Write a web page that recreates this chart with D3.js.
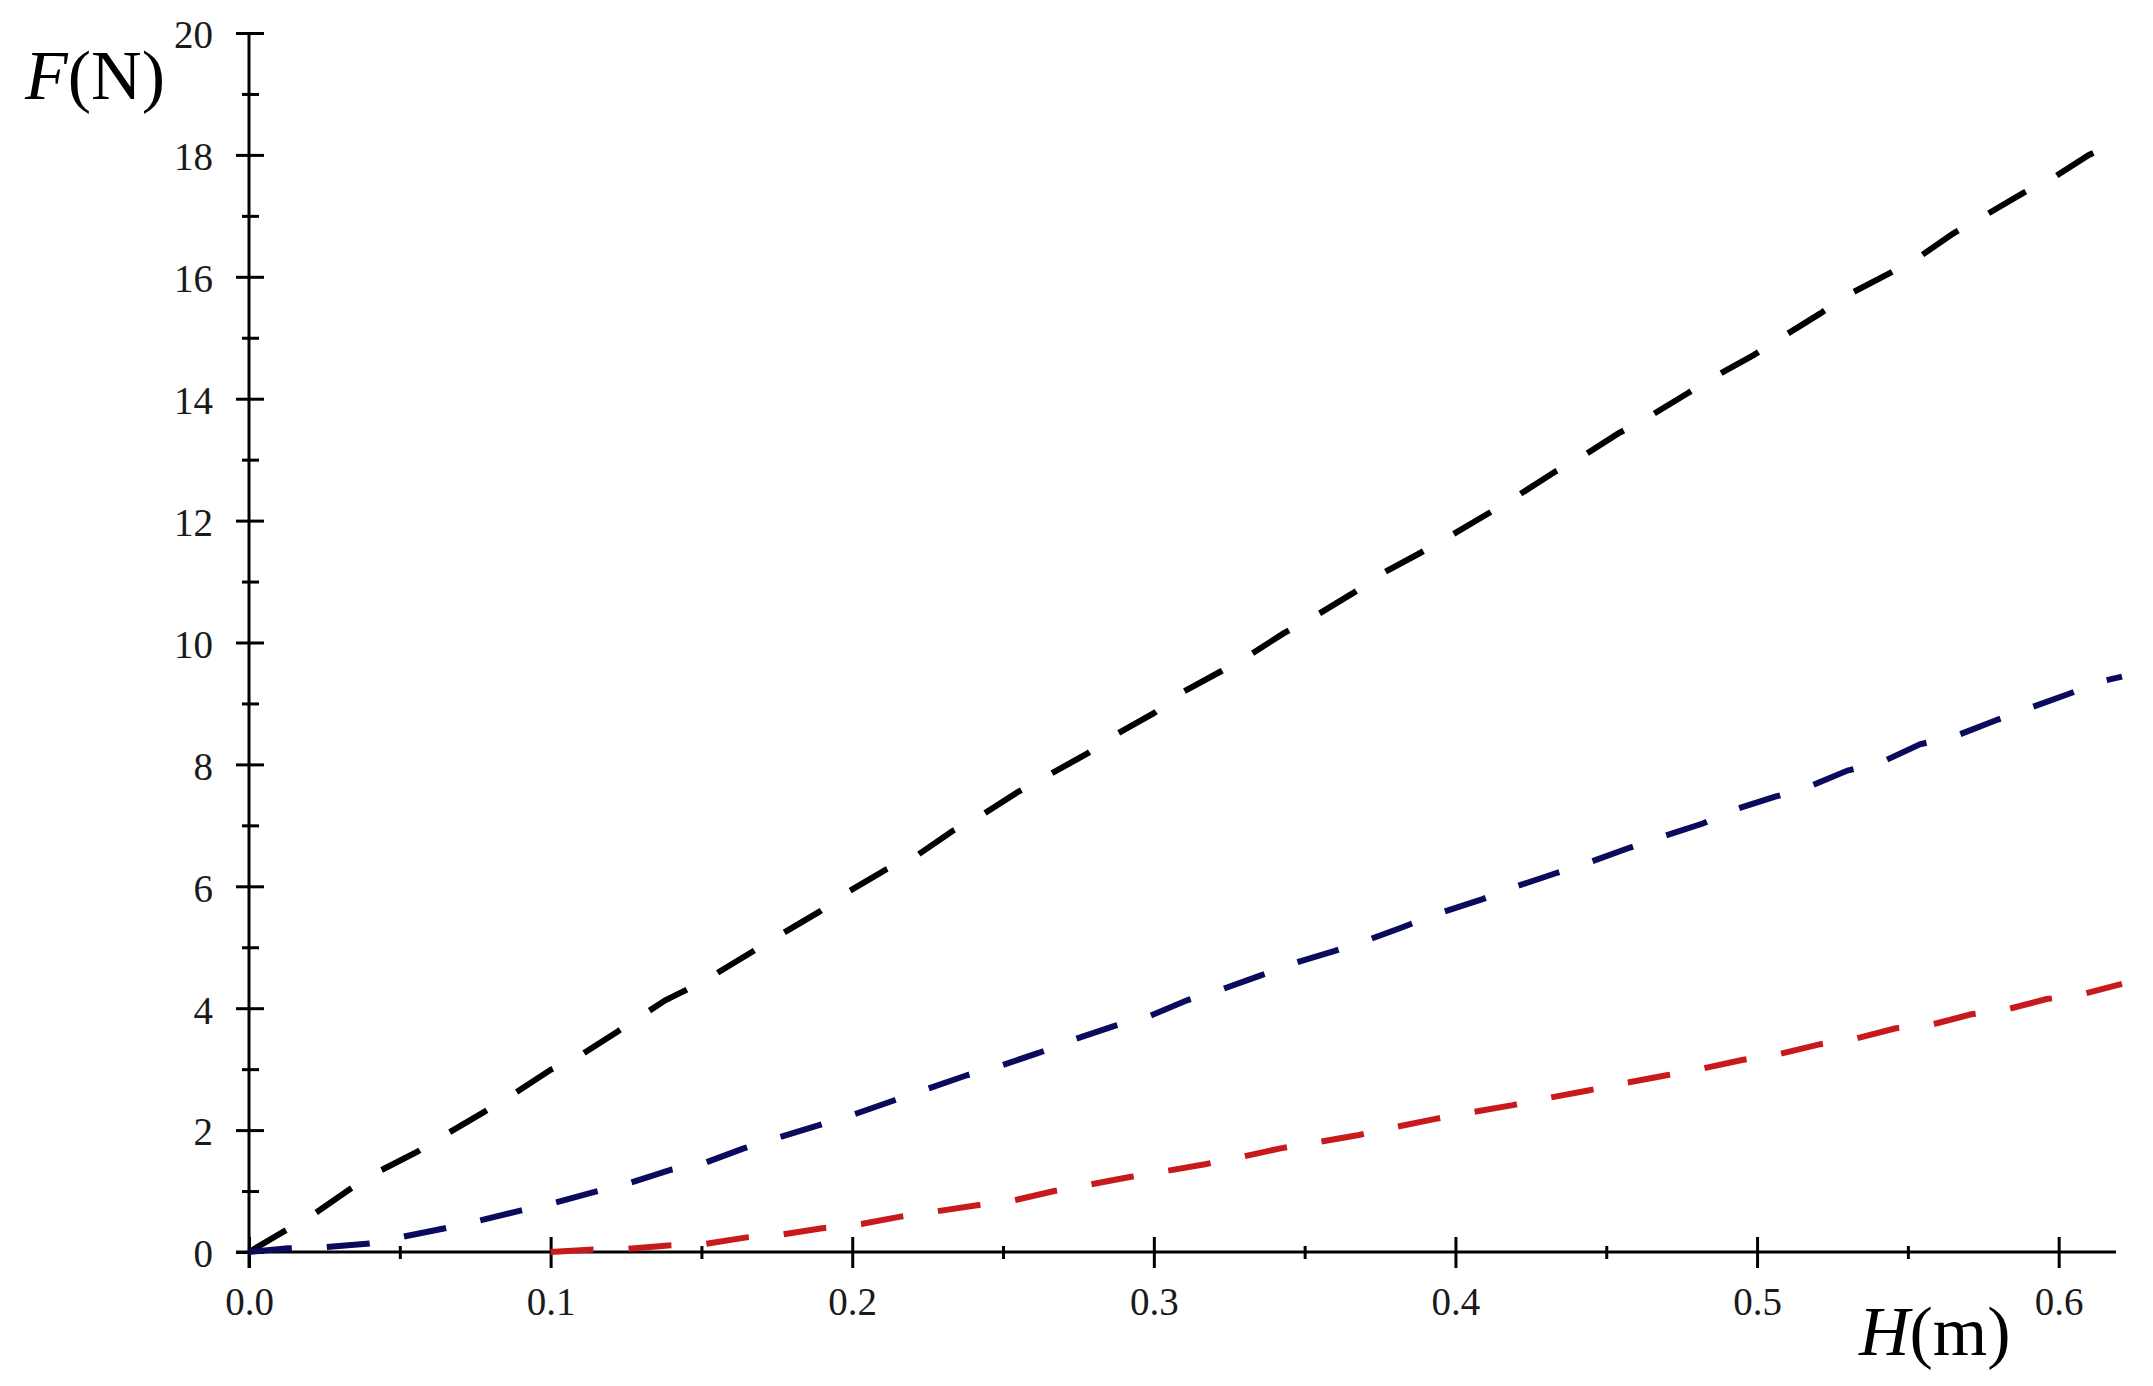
<!DOCTYPE html>
<html>
<head>
<meta charset="utf-8">
<script src="https://cdn.jsdelivr.net/npm/d3@7"></script>
<style>
    body { margin: 0; background: #fff; }
    svg { display: block; }
    .tick text { font-family: "Liberation Serif", "Times New Roman", serif; fill: #1a1a1a; }
    .axis-label { font-family: "Liberation Serif", "Times New Roman", serif; fill: #000; }
</style>
</head>
<body>
<svg id="chart" width="2153" height="1386"></svg>
<script>
// Values, H in m and F in N
const blackH = [0, 0.022, 0.034, 0.043, 0.056, 0.066, 0.078, 0.088, 0.100, 0.110,
    0.122, 0.138, 0.145, 0.155, 0.167, 0.176, 0.189, 0.198, 0.211, 0.221,
    0.233, 0.243, 0.255, 0.266, 0.278, 0.287, 0.300, 0.309, 0.322, 0.331,
    0.343, 0.354, 0.366, 0.376, 0.388, 0.398, 0.411, 0.420, 0.433, 0.442,
    0.454, 0.464, 0.477, 0.487, 0.499, 0.508, 0.521, 0.530, 0.544, 0.553,
    0.565, 0.575, 0.588, 0.598, 0.610, 0.617];
const blackF = [0, 0.64, 1.05, 1.32, 1.65, 1.95, 2.30, 2.60, 2.99, 3.23,
    3.61, 4.13, 4.30, 4.57, 4.93, 5.20, 5.58, 5.89, 6.27, 6.49,
    6.90, 7.17, 7.55, 7.85, 8.18, 8.48, 8.84, 9.17, 9.52, 9.77,
    10.15, 10.45, 10.81, 11.14, 11.46, 11.74, 12.12, 12.39, 12.80, 13.05,
    13.43, 13.70, 14.09, 14.39, 14.72, 15.00, 15.40, 15.70, 16.06, 16.30,
    16.71, 16.99, 17.37, 17.62, 18.00, 18.15];

const blueH = [0, 0.013, 0.025, 0.040, 0.051, 0.065, 0.076, 0.090, 0.100, 0.114,
    0.126, 0.140, 0.151, 0.164, 0.175, 0.189, 0.199, 0.214, 0.224, 0.238,
    0.250, 0.262, 0.273, 0.287, 0.298, 0.311, 0.322, 0.335, 0.346, 0.360,
    0.371, 0.382, 0.394, 0.409, 0.419, 0.433, 0.443, 0.457, 0.467, 0.482,
    0.492, 0.506, 0.516, 0.530, 0.541, 0.554, 0.566, 0.579, 0.590, 0.603,
    0.614, 0.621];
const blueF = [0, 0.06, 0.08, 0.14, 0.25, 0.39, 0.51, 0.68, 0.79, 0.98,
    1.13, 1.35, 1.46, 1.70, 1.87, 2.08, 2.23, 2.49, 2.66, 2.90,
    3.07, 3.27, 3.48, 3.71, 3.86, 4.13, 4.30, 4.53, 4.73, 4.94,
    5.12, 5.32, 5.55, 5.79, 5.98, 6.21, 6.37, 6.62, 6.79, 7.03,
    7.25, 7.47, 7.61, 7.90, 8.03, 8.33, 8.47, 8.72, 8.92, 9.15,
    9.36, 9.44];

const redH = [0.100, 0.114, 0.125, 0.140, 0.151, 0.165, 0.176, 0.190, 0.203, 0.216,
    0.227, 0.242, 0.253, 0.267, 0.278, 0.292, 0.303, 0.317, 0.329, 0.342,
    0.354, 0.368, 0.379, 0.393, 0.404, 0.419, 0.430, 0.444, 0.456, 0.470,
    0.481, 0.495, 0.506, 0.521, 0.531, 0.546, 0.557, 0.571, 0.582, 0.596,
    0.607, 0.621];
const redF = [0, 0.04, 0.05, 0.11, 0.13, 0.24, 0.28, 0.39, 0.46, 0.58,
    0.66, 0.77, 0.84, 1.00, 1.10, 1.23, 1.32, 1.44, 1.56, 1.70,
    1.80, 1.92, 2.04, 2.18, 2.28, 2.41, 2.52, 2.65, 2.77, 2.90,
    3.00, 3.15, 3.23, 3.41, 3.48, 3.67, 3.72, 3.90, 3.97, 4.15,
    4.22, 4.40];

const xMajor = [0, 0.1, 0.2, 0.3, 0.4, 0.5, 0.6];
const xMinor = [0.05, 0.15, 0.25, 0.35, 0.45, 0.55];
const yMajor = [0, 2, 4, 6, 8, 10, 12, 14, 16, 18, 20];
const yMinor = [1, 3, 5, 7, 9, 11, 13, 15, 17, 19];

const series = [
    { h: blackH, f: blackF, color: '#000000' },
    { h: blueH, f: blueF, color: '#0b0b5e' },
    { h: redH, f: redF, color: '#c81a1c' }
];

const svg = d3.select('#chart');

const x = d3.scaleLinear().domain([0, 0.62]).range([249, 2119]);
const y = d3.scaleLinear().domain([0, 20]).range([1252, 33]);

// x axis: major ticks cross the line, minor ticks are short
const xAxisG = svg.append('g')
    .attr('transform', `translate(0,${y(0)})`)
    .call(d3.axisBottom(x).tickValues(xMajor).tickSizeOuter(0).tickSize(15)
        .tickFormat(d3.format('.1f')));
xAxisG.selectAll('.tick line').attr('y1', -15).attr('y2', 16);
xAxisG.selectAll('.tick text').attr('y', 35).attr('dy', '0.71em').style('font-size', '39px');

svg.append('g')
    .attr('transform', `translate(0,${y(0)})`)
    .call(d3.axisBottom(x).tickValues(xMinor).tickSizeOuter(0).tickSize(7).tickFormat(''))
    .call(g => g.select('.domain').remove())
    .selectAll('.tick line').attr('y1', -6);

// y axis
const yAxisG = svg.append('g')
    .attr('transform', `translate(${x(0)},0)`)
    .call(d3.axisLeft(y).tickValues(yMajor).tickSizeOuter(0).tickSize(14));
yAxisG.selectAll('.tick line').attr('x1', 0).attr('x2', -13).attr('x1', 15);
yAxisG.selectAll('.tick text').attr('x', -36).attr('dy', '0.38em').style('font-size', '39px');

svg.append('g')
    .attr('transform', `translate(${x(0)},0)`)
    .call(d3.axisLeft(y).tickValues(yMinor).tickSizeOuter(0).tickSize(7).tickFormat(''))
    .call(g => g.select('.domain').remove())
    .selectAll('.tick line').attr('x1', 10);

svg.selectAll('.domain, .tick line').attr('stroke', '#000').attr('stroke-width', 3);

// y axis line runs down past the x axis a bit
yAxisG.select('.domain').attr('d', `M0,${y(20)}V${y(0) + 16}`);
xAxisG.select('.domain').attr('d', `M${x(0) - 13},0H${x(0.62) - 3}`);

// curves
const line = d3.line().x(d => x(d[0])).y(d => y(d[1]));

svg.append('g')
    .selectAll('path')
    .data(series)
    .join('path')
    .attr('d', s => line(s.h.map((h, i) => [h, s.f[i]])))
    .attr('fill', 'none')
    .attr('stroke', s => s.color)
    .attr('stroke-width', 6)
    .attr('stroke-dasharray', '43 35');

// axis labels
const fLabel = svg.append('text')
    .attr('class', 'axis-label')
    .attr('x', 25)
    .attr('y', 99)
    .style('font-size', '70px');
fLabel.append('tspan').style('font-style', 'italic').text('F');
fLabel.append('tspan').text('(N)');

const hLabel = svg.append('text')
    .attr('class', 'axis-label')
    .attr('x', 1859)
    .attr('y', 1355)
    .style('font-size', '70px');
hLabel.append('tspan').style('font-style', 'italic').text('H');
hLabel.append('tspan').text('(m)');
</script>
</body>
</html>
